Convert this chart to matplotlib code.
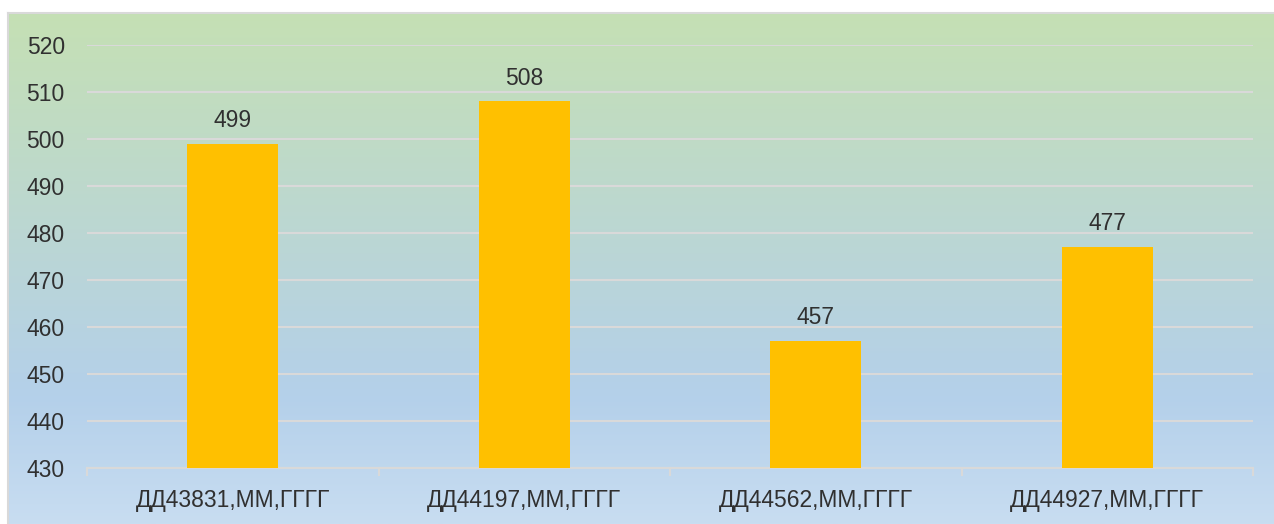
import matplotlib
matplotlib.use("Agg")
import matplotlib.pyplot as plt
import numpy as np
from matplotlib.colors import LinearSegmentedColormap

categories = ["ДД43831,ММ,ГГГГ", "ДД44197,ММ,ГГГГ", "ДД44562,ММ,ГГГГ", "ДД44927,ММ,ГГГГ"]
values = [499, 508, 457, 477]
yticks = [430, 440, 450, 460, 470, 480, 490, 500, 510, 520]

plt.rcParams['font.family'] = ['Liberation Sans', 'DejaVu Sans']
W, H = 1274, 524
fig = plt.figure(figsize=(W / 100, H / 100), dpi=100)
fig.patch.set_facecolor("white")

# background gradient panel
bx0, by1 = 8, 13
bg = fig.add_axes([bx0 / W, 0, 1 - bx0 / W, 1 - by1 / H])
cmap = LinearSegmentedColormap.from_list("g", [
    (0.0, (197/255, 224/255, 180/255)),
    (0.75, (180/255, 208/255, 234/255)),
    (1.0, (200/255, 221/255, 241/255)),
])
grad = np.linspace(0, 1, 256).reshape(-1, 1)
bg.imshow(grad, aspect="auto", cmap=cmap, extent=[0, 1, 0, 1], origin="upper")
bg.set_xlim(0, 1); bg.set_ylim(0, 1)
bg.set_xticks([]); bg.set_yticks([])
for s in ["right", "bottom"]:
    bg.spines[s].set_visible(False)
for s in ["top", "left"]:
    bg.spines[s].set_color("#d9d9d9")
    bg.spines[s].set_linewidth(1.5)

# main axes
x0, x1, ytop, ybot = 87, 1253, 45, 468
ax = fig.add_axes([x0 / W, (H - ybot) / H, (x1 - x0) / W, (ybot - ytop) / H])
ax.patch.set_alpha(0)
x = np.arange(len(categories))
ax.bar(x, values, width=0.312, bottom=0, color="#FFC000", zorder=3)
ax.set_ylim(430, 520)
ax.set_xlim(-0.5, len(categories) - 0.5)
ax.set_yticks(yticks)
ax.yaxis.grid(True, color="#d9d9d9", linewidth=1.5, zorder=0)
ax.set_axisbelow(True)
ax.set_xticks(x)
ax.set_xticklabels(categories)
ax.set_xticks(np.arange(-0.5, len(categories)), minor=True)
ax.tick_params(axis="x", which="major", length=0, pad=15, labelsize=16.5, labelcolor="#303030")
ax.tick_params(axis="x", which="minor", length=6, width=1.5, color="#d9d9d9", direction="out")
ax.tick_params(axis="y", length=0, pad=16, labelsize=16.5, labelcolor="#303030")
for s in ["top", "right", "left"]:
    ax.spines[s].set_visible(False)
ax.spines["bottom"].set_color("#d9d9d9")
ax.spines["bottom"].set_linewidth(1.5)

for xi, v in zip(x, values):
    ax.annotate(str(v), (xi, v), xytext=(0, 8.5), textcoords="offset points",
                ha="center", va="bottom", fontsize=16.5, color="#303030")

fig.savefig("out.png", dpi=100)
